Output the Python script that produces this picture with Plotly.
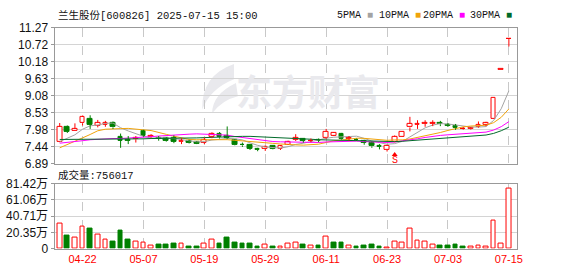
import plotly.graph_objects as go

# ---------------- data ----------------
dates = ["2025-04-17","2025-04-18","2025-04-21","2025-04-22","2025-04-23","2025-04-24","2025-04-25","2025-04-28",
         "2025-04-29","2025-04-30","2025-05-06","2025-05-07","2025-05-08","2025-05-09","2025-05-12","2025-05-13",
         "2025-05-14","2025-05-15","2025-05-16","2025-05-19","2025-05-20","2025-05-21","2025-05-22","2025-05-23",
         "2025-05-26","2025-05-27","2025-05-28","2025-05-29","2025-05-30","2025-06-03","2025-06-04","2025-06-05",
         "2025-06-06","2025-06-09","2025-06-10","2025-06-11","2025-06-12","2025-06-13","2025-06-16","2025-06-17",
         "2025-06-18","2025-06-19","2025-06-20","2025-06-23","2025-06-24","2025-06-25","2025-06-26","2025-06-27",
         "2025-06-30","2025-07-01","2025-07-02","2025-07-03","2025-07-04","2025-07-07","2025-07-08","2025-07-09",
         "2025-07-10","2025-07-11","2025-07-14","2025-07-15"]

opens = [7.60, 8.08, 7.94, 8.19, 8.32, 8.12, 8.15, 8.19, 7.74, 7.66,
         7.68, 7.94, 7.74, 7.73, 7.71, 7.71, 7.59, 7.62, 7.58, 7.57,
         7.74, 7.86, 7.79, 7.66, 7.51, 7.48, 7.37, 7.37, 7.45, 7.37,
         7.51, 7.66, 7.69, 7.62, 7.65, 7.71, 7.80, 7.84, 7.70, 7.67,
         7.63, 7.57, 7.47, 7.33, 7.60, 7.76, 8.06, 8.15, 8.17, 8.18,
         8.19, 8.14, 8.11, 8.00, 8.00, 8.08, 8.15, 8.32, 9.92, 10.91]
highs = [8.20, 8.12, 8.19, 8.44, 8.45, 8.30, 8.27, 8.25, 7.86, 7.78,
         7.78, 7.98, 7.84, 7.78, 7.74, 7.80, 7.71, 7.66, 7.60, 7.73,
         7.90, 7.91, 8.09, 7.68, 7.57, 7.52, 7.40, 7.48, 7.47, 7.49,
         7.63, 7.84, 7.71, 7.70, 7.70, 8.01, 7.90, 7.88, 7.78, 7.70,
         7.66, 7.60, 7.52, 7.50, 7.80, 7.94, 8.40, 8.29, 8.29, 8.29,
         8.27, 8.20, 8.17, 8.07, 8.07, 8.25, 8.24, 9.02, 9.92, 10.91]
lows = [7.58, 7.88, 7.94, 8.12, 8.01, 8.06, 8.08, 8.01, 7.40, 7.52,
        7.57, 7.76, 7.71, 7.63, 7.60, 7.55, 7.52, 7.54, 7.52, 7.52,
        7.71, 7.70, 7.68, 7.48, 7.43, 7.33, 7.29, 7.30, 7.34, 7.33,
        7.49, 7.62, 7.57, 7.58, 7.58, 7.68, 7.78, 7.66, 7.63, 7.62,
        7.50, 7.40, 7.35, 7.28, 7.58, 7.75, 7.93, 8.01, 8.08, 8.10,
        8.10, 8.08, 7.98, 7.98, 7.98, 8.05, 8.10, 8.32, 9.92, 10.67]
closes = [8.08, 7.91, 8.01, 8.40, 8.15, 8.20, 8.19, 8.06, 7.64, 7.63,
          7.73, 7.79, 7.79, 7.69, 7.63, 7.60, 7.63, 7.57, 7.54, 7.66,
          7.86, 7.74, 7.71, 7.49, 7.48, 7.38, 7.34, 7.44, 7.35, 7.45,
          7.60, 7.71, 7.63, 7.64, 7.63, 7.93, 7.88, 7.68, 7.73, 7.66,
          7.57, 7.45, 7.43, 7.47, 7.76, 7.93, 8.17, 8.18, 8.19, 8.20,
          8.16, 8.12, 8.03, 8.02, 8.03, 8.15, 8.20, 9.02, 9.92, 10.91]

volumes = [311000, 159000, 144000, 275000, 255000, 180000, 108000, 87000, 231000, 108000,
           84000, 72000, 36000, 51000, 51000, 60000, 60000, 28000, 28000, 60000,
           108000, 64000, 135000, 75000, 64000, 64000, 28000, 48000, 28000, 20000,
           60000, 72000, 51000, 36000, 40000, 147000, 75000, 75000, 36000, 28000,
           40000, 51000, 28000, 16000, 84000, 75000, 255000, 96000, 84000, 48000,
           40000, 40000, 51000, 28000, 24000, 40000, 28000, 347000, 60000, 756017]
vol_up = [1, 0, 1, 1, 0, 1, 1, 0, 0, 0,
          1, 1, 1, 0, 0, 0, 1, 0, 0, 1,
          1, 0, 0, 0, 0, 0, 0, 1, 0, 1,
          1, 1, 0, 1, 0, 1, 0, 0, 1, 0,
          0, 0, 0, 1, 1, 1, 1, 1, 1, 1,
          0, 0, 0, 0, 1, 1, 1, 1, 1, 1]

# moving-average values before enough in-window closes exist
ma5_head = [7.60, 7.70, 7.82, 8.00]
ma10_head = [7.40, 7.50, 7.60, 7.72, 7.83, 7.95, 8.00, 8.02, 8.02]
ma20_head = [7.55, 7.57, 7.60, 7.63, 7.66, 7.68, 7.69, 7.70, 7.70, 7.71,
             7.72, 7.74, 7.76, 7.78, 7.80, 7.82, 7.84, 7.84, 7.85]
ma30_head = [7.67, 7.67, 7.67, 7.68, 7.68, 7.68, 7.68, 7.68, 7.68, 7.68,
             7.69, 7.69, 7.70, 7.70, 7.71, 7.71, 7.72, 7.72, 7.72, 7.73,
             7.74, 7.76, 7.77, 7.77, 7.77, 7.77, 7.76, 7.75, 7.74]

price_ticks = [6.89, 7.44, 7.98, 8.53, 9.08, 9.63, 10.18, 10.72, 11.27]
price_labels = ["6.89", "7.44", "7.98", "8.53", "9.08", "9.63", "10.18", "10.72", "11.27"]
vol_ticks = [0, 203550, 407100, 610650, 814200]
vol_labels = ["0", "20.35万", "40.71万", "61.06万", "81.42万"]

stock_title = "兰生股份[600826] 2025-07-15 15:00"
ma_names = ["5PMA", "10PMA", "20PMA", "30PMA"]
signal_index = [44]
signal_text = ["S"]

# ---------------- styles ----------------
W, H = 578, 276
RED = "#ff0000"
GREEN = "#008000"
MA_COLORS = ["#a3a3a3", "#f0a30a", "#ff00ff", "#006a2a"]
GRID = "#d4d4d4"
AXIS = "#999999"
WM = "#e9e9ed"
MONO = "Liberation Mono, Noto Sans CJK SC, monospace"
SANS = "Liberation Sans, Noto Sans CJK SC, sans-serif"

X0, X1 = 55, 522          # plot area, px
P_TOP, P_BOT = 22, 165     # price panel, px
V_TOP, V_BOT = 186, 254.5  # volume panel, px


def px_x(p):
    return p / W


def px_y(p):
    return 1 - p / H


def moving_avg(vals, n, head):
    out = list(head)
    for i in range(len(head), len(vals)):
        out.append(sum(vals[i - n + 1:i + 1]) / n)
    return out


n = len(closes)
idx = list(range(n))
mas = [moving_avg(closes, 5, ma5_head), moving_avg(closes, 10, ma10_head),
       moving_avg(closes, 20, ma20_head), moving_avg(closes, 30, ma30_head)]

fig = go.Figure()

# MA lines
for name, vals, col in zip(ma_names, mas, MA_COLORS):
    fig.add_trace(go.Scatter(x=idx, y=vals, mode="lines", name=name,
                             line=dict(color=col, width=1), hoverinfo="skip",
                             xaxis="x", yaxis="y"))

# candles: wicks
for want_up, col in ((True, RED), (False, GREEN)):
    wx, wy = [], []
    for i in idx:
        up = closes[i] >= opens[i]
        if up != want_up:
            continue
        top = max(opens[i], closes[i])
        bot = min(opens[i], closes[i])
        wx += [i, i, None, i, i, None]
        wy += [highs[i], top, None, bot, lows[i], None]
    fig.add_trace(go.Scatter(x=wx, y=wy, mode="lines", line=dict(color=col, width=1),
                             hoverinfo="skip", xaxis="x", yaxis="y"))

# candles: bodies
body_base = [min(o, c) for o, c in zip(opens, closes)]
body_h = [max(abs(c - o), 0.012) for o, c in zip(opens, closes)]
ups = [c >= o for o, c in zip(opens, closes)]
fig.add_trace(go.Bar(x=idx, y=body_h, base=body_base, width=0.62,
                     marker=dict(color=["white" if u else GREEN for u in ups],
                                 line=dict(color=[RED if u else GREEN for u in ups], width=1)),
                     xaxis="x", yaxis="y"))

# volume
fig.add_trace(go.Bar(x=idx, y=volumes, width=0.62,
                     marker=dict(color=["white" if u else GREEN for u in vol_up],
                                 line=dict(color=[RED if u else GREEN for u in vol_up], width=1)),
                     xaxis="x2", yaxis="y2"))

date_ticks = list(range(3, n, 8))
date_labels = [dates[i][5:] for i in date_ticks]
xr = [-0.68, 60.13]

common_x = dict(domain=[px_x(X0), px_x(X1)], range=xr, tickvals=date_ticks,
                showgrid=True, gridcolor="#c8c8c8", griddash="dash", gridwidth=1,
                showline=True, mirror=True, linecolor=AXIS, linewidth=1,
                zeroline=False, fixedrange=True)

fig.update_layout(
    width=W, height=H, margin=dict(l=0, r=0, t=0, b=0),
    paper_bgcolor="white", plot_bgcolor="white", showlegend=False,
    bargap=0,
    xaxis=dict(**common_x, anchor="y", showticklabels=False),
    xaxis2=dict(**common_x, anchor="y2", ticktext=date_labels, ticks="",
                tickfont=dict(family=SANS, size=11, color=RED)),
    yaxis=dict(domain=[px_y(P_BOT), px_y(P_TOP)], range=[price_ticks[0], price_ticks[-1]],
               tickvals=price_ticks, ticktext=price_labels, showgrid=True, gridcolor=GRID,
               ticks="outside", ticklen=3, tickcolor=AXIS, showline=True, mirror=True,
               linecolor=AXIS, zeroline=False, tickfont=dict(family=SANS, size=12, color="#111"),
               anchor="x"),
    yaxis2=dict(domain=[px_y(V_BOT), px_y(V_TOP)], range=[vol_ticks[0], vol_ticks[-1]],
                tickvals=vol_ticks, ticktext=vol_labels, showgrid=True, gridcolor=GRID,
                ticks="outside", ticklen=3, tickcolor=AXIS, showline=True, mirror=True,
                linecolor=AXIS, zeroline=False, tickfont=dict(family=SANS, size=12, color="#111"),
                anchor="x2"),
)


def pt(x, y):
    return f"{px_x(x):.4f},{px_y(y):.4f}"


shapes = []
# watermark logo (rough swoosh icon), drawn below traces
icon_paths = [
    f"M {pt(236, 60)} Q {pt(203, 72)} {pt(204, 108)} Q {pt(212, 86)} {pt(236, 76)} Z",
    f"M {pt(238, 80)} Q {pt(214, 92)} {pt(214, 112)} Q {pt(224, 98)} {pt(240, 94)} Z",
]
for p in icon_paths:
    shapes.append(dict(type="path", path=p, xref="paper", yref="paper",
                       fillcolor=WM, line=dict(width=0), layer="below"))
# signal triangles
for si in signal_index:
    shapes.append(dict(type="path", xref="x", yref="paper", xsizemode="pixel", ysizemode="pixel",
                       xanchor=si, yanchor=px_y(157), path="M -3,0 L 3,0 L 0,4 Z",
                       fillcolor=RED, line=dict(width=0)))
fig.update_layout(shapes=shapes)

ann = []
# watermark text
ann.append(dict(text="<b>东方财富</b>", x=px_x(311), y=px_y(87), xref="paper", yref="paper",
                xanchor="center", yanchor="middle", showarrow=False,
                font=dict(family="Noto Sans CJK SC", size=36, color=WM)))
# title
ann.append(dict(text=stock_title, x=px_x(56), y=px_y(9), xref="paper", yref="paper",
                xanchor="left", yanchor="middle", showarrow=False,
                font=dict(family=MONO, size=10.5, color="#111")))
# legend
leg_x = [338, 380, 425, 472]
for name, col, lx in zip(ma_names, MA_COLORS, leg_x):
    ann.append(dict(text=f"{name}<span style='color:{col}'> ■</span>", x=px_x(lx), y=px_y(9),
                    xref="paper", yref="paper", xanchor="left", yanchor="middle",
                    showarrow=False, font=dict(family=MONO, size=10, color="#111")))
# volume label
ann.append(dict(text=f"成交量:{volumes[-1]}", x=px_x(56), y=px_y(177), xref="paper", yref="paper",
                xanchor="left", yanchor="middle", showarrow=False,
                font=dict(family=MONO, size=10.5, color="#111")))
# signal letters
for si, st in zip(signal_index, signal_text):
    ann.append(dict(text=st, x=si, y=px_y(161.5), xref="x", yref="paper", xanchor="center",
                    yanchor="middle", showarrow=False, font=dict(family=MONO, size=10, color=RED)))
fig.update_layout(annotations=ann)

fig.write_html("out.html")
